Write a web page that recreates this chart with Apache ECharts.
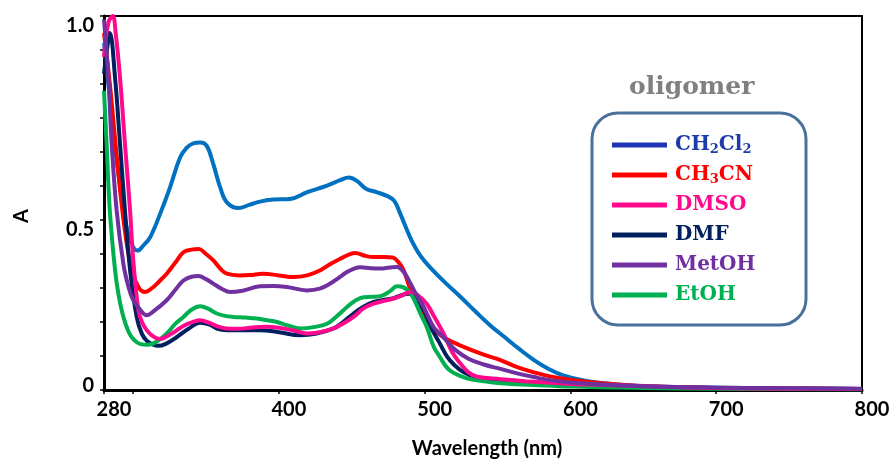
<!DOCTYPE html>
<html>
<head>
<meta charset="utf-8">
<script src="https://cdn.jsdelivr.net/npm/echarts@6/dist/echarts.min.js"></script>
<style>
html,body{margin:0;padding:0;background:#fff;}
#chart{width:892px;height:459px;}
</style>
</head>
<body>
<div id="chart"></div>
<script>
// ---- data (wavelength nm, absorbance) ----
const seriesNames = ['CH2Cl2', 'CH3CN', 'DMSO', 'DMF', 'MetOH', 'EtOH'];
const xTickLabels = [280, 400, 500, 600, 700, 800];
const xTicks = [280, 300, 400, 500, 600, 700, 800];
const yTicks = [0, 0.1, 0.2, 0.3, 0.4, 0.5, 0.6, 0.7, 0.8, 0.9, 1.0, 1.1];
const yTickLabels = [0, 0.5, 1.1];
const titleText = 'oligomer';

const ch2cl2 = [[280,1.02],[284,0.86],[288,0.7],[292,0.57],[296,0.47],[300,0.42],[303,0.41],[307,0.425],[311.6,0.449],[318.5,0.518],[325.3,0.596],[332.2,0.684],[336.8,0.713],[341,0.725],[346,0.728],[350.5,0.718],[355,0.664],[359.7,0.596],[364.3,0.552],[372.3,0.535],[380,0.545],[387,0.554],[396,0.56],[407.7,0.562],[419,0.581],[433,0.601],[442,0.617],[448,0.625],[453.5,0.615],[460,0.591],[467,0.582],[474,0.571],[479,0.557],[483.3,0.518],[490,0.449],[497,0.395],[505,0.355],[515,0.312],[525,0.272],[535,0.23],[545,0.19],[555,0.155],[565,0.12],[575,0.088],[585,0.062],[595,0.043],[610,0.027],[625,0.019],[640,0.014],[660,0.01],[690,0.008],[720,0.006],[760,0.005],[800,0.003]];

const ch3cn = [[280,1.05],[284,0.9],[288,0.72],[292,0.55],[296,0.42],[300,0.34],[304,0.3],[308,0.288],[313,0.3],[318,0.32],[323,0.342],[329,0.375],[334.5,0.405],[340,0.413],[345,0.415],[350,0.4],[355,0.381],[360,0.356],[364.3,0.342],[373,0.337],[380,0.338],[389,0.342],[400,0.337],[410,0.332],[420,0.338],[428.4,0.352],[435,0.37],[442,0.386],[448,0.398],[452.4,0.403],[459,0.395],[465,0.391],[472,0.391],[478,0.39],[482,0.376],[485.6,0.352],[489,0.31],[492.4,0.273],[497,0.238],[501.6,0.205],[508,0.172],[515,0.15],[525,0.13],[540,0.105],[552,0.088],[563,0.068],[575,0.052],[586,0.04],[600,0.03],[621,0.02],[655,0.01],[700,0.006],[750,0.004],[800,0.003]];

const dmso = [[280,0.98],[283,1.08],[286,1.1],[288,1.05],[291,0.918],[294.4,0.723],[297.9,0.527],[300.1,0.381],[303.6,0.234],[306,0.2],[309.3,0.176],[313,0.16],[318.5,0.15],[322,0.155],[328,0.17],[335,0.19],[341,0.2],[346,0.205],[352,0.198],[358,0.187],[364,0.181],[372,0.18],[382,0.184],[391.7,0.186],[400,0.183],[410,0.175],[419.2,0.166],[428,0.17],[437.5,0.181],[445,0.198],[451.2,0.215],[458,0.24],[465,0.254],[472,0.262],[478.7,0.269],[484,0.277],[490,0.288],[495,0.28],[501.6,0.252],[506,0.22],[513,0.166],[519,0.11],[524.5,0.078],[530,0.052],[536,0.039],[552,0.032],[575,0.024],[600,0.018],[621,0.015],[660,0.01],[700,0.006],[750,0.004],[800,0.003]];

const dmf = [[280,0.93],[282,1.0],[284,1.05],[287.6,0.918],[291,0.723],[294.4,0.527],[297.9,0.352],[302.4,0.215],[306,0.165],[309.3,0.145],[313,0.135],[317,0.13],[322,0.135],[330,0.156],[338,0.18],[346,0.198],[352,0.193],[358,0.18],[364,0.176],[375,0.176],[387,0.176],[400,0.17],[414.6,0.161],[425,0.165],[437.5,0.181],[444,0.2],[451.2,0.225],[458,0.245],[465,0.259],[472,0.265],[478.7,0.27],[484,0.279],[489,0.283],[494.7,0.265],[500,0.23],[504,0.186],[510,0.14],[515.4,0.098],[520,0.075],[526.8,0.052],[535,0.038],[552,0.029],[575,0.022],[600,0.016],[650,0.01],[700,0.006],[750,0.004],[800,0.003]];

const metoh = [[280,1.09],[283,0.918],[285.3,0.723],[288.7,0.527],[293.3,0.371],[297,0.3],[300.1,0.264],[305,0.235],[309.3,0.22],[315,0.235],[323,0.264],[329,0.295],[334.5,0.322],[340,0.333],[344.8,0.335],[350,0.326],[355,0.313],[361,0.297],[366.5,0.288],[375,0.292],[387,0.305],[396,0.306],[405.5,0.303],[419.2,0.293],[428,0.298],[435.2,0.313],[441,0.33],[446.7,0.347],[452,0.358],[455.8,0.361],[463,0.358],[469.6,0.357],[476,0.36],[481,0.362],[486,0.345],[490.2,0.313],[495,0.275],[499.3,0.244],[506,0.186],[511,0.163],[516,0.14],[521,0.118],[530,0.092],[540.5,0.075],[552,0.062],[563.4,0.049],[575,0.038],[586,0.029],[600,0.022],[621,0.016],[650,0.011],[690,0.007],[750,0.005],[800,0.004]];

const etoh = [[280,0.88],[281.8,0.723],[284,0.527],[287.6,0.352],[290,0.28],[293.3,0.215],[297,0.17],[300.1,0.15],[305,0.135],[310,0.133],[316,0.142],[323,0.166],[329,0.195],[334.5,0.215],[340,0.236],[346,0.246],[351,0.24],[357.4,0.225],[363,0.218],[368.8,0.215],[377,0.213],[384.9,0.21],[392,0.205],[398.6,0.2],[406,0.19],[414.6,0.181],[424,0.185],[433,0.195],[440,0.218],[446.7,0.244],[452,0.262],[458.1,0.273],[464,0.274],[469.6,0.276],[476,0.29],[481,0.305],[485,0.303],[490.2,0.285],[494,0.255],[497,0.225],[501.6,0.183],[506.2,0.127],[510,0.1],[515.4,0.065],[520,0.05],[529,0.034],[540,0.026],[552,0.02],[575,0.015],[600,0.01],[650,0.006],[700,0.004],[800,0.002]];

const seriesData = [ch2cl2, ch3cn, dmso, dmf, metoh, etoh];
const lineColors = ['#0070C0', '#FF0000', '#FF0A8C', '#002060', '#7030A0', '#00B050'];
const legendIconColors = ['#2035B5', '#FF0000', '#FF0A8C', '#002060', '#7030A0', '#00B050'];
const legendTextColors = ['#1F3BAA', '#FF0000', '#FF0A8C', '#002060', '#7030A0', '#00B050'];
const legendLabels = {
  'CH2Cl2': 'CH{s|2}Cl{s|2}',
  'CH3CN': 'CH{s|3}CN',
  'DMSO': 'DMSO', 'DMF': 'DMF', 'MetOH': 'MetOH', 'EtOH': 'EtOH'
};
const drawOrder = [0, 1, 3, 5, 2, 4];

const chart = echarts.init(document.getElementById('chart'), null, {renderer: 'canvas'});
const legendFont = 'DejaVu Serif';
const series = drawOrder.map(i => ({
  name: seriesNames[i],
  type: 'line',
  data: seriesData[i],
  showSymbol: false,
  smooth: 0.4,
  clip: true,
  lineStyle: {width: 4, color: lineColors[i]},
  itemStyle: {color: lineColors[i]},
  emphasis: {disabled: true},
  silent: true
}));

chart.setOption({
  animation: false,
  backgroundColor: '#ffffff',
  title: {
    text: titleText,
    left: 624, top: 70,
    textStyle: {color: '#808080', fontFamily: legendFont, fontWeight: 'bold', fontSize: 25}
  },
  grid: {
    left: 104, right: 30, top: 16, bottom: 69,
    containLabel: false, outerBoundsMode: 'none',
    show: true, borderColor: '#000', borderWidth: 2, backgroundColor: 'transparent'
  },
  xAxis: {
    type: 'value', min: 280, max: 800,
    name: 'Wavelength (nm)', nameLocation: 'middle', nameGap: 49,
    nameTextStyle: {fontFamily: 'Lato', fontWeight: 'bold', fontSize: 20, color: '#000', padding: [0, 0, 0, 8]},
    axisLine: {show: true, onZero: false, lineStyle: {color: '#000', width: 3}},
    axisTick: {show: true, length: 4, customValues: xTicks, lineStyle: {color: '#000', width: 1.5}},
    axisLabel: {customValues: xTickLabels, margin: 10, fontFamily: 'Lato', fontWeight: 'bold', fontSize: 20, color: '#000', padding: [0, 0, 0, 20]},
    splitLine: {show: false}
  },
  yAxis: {
    type: 'value', min: 0, max: 1.1,
    name: 'A', nameLocation: 'middle', nameGap: 72, nameRotate: 90,
    nameTextStyle: {fontFamily: 'Lato', fontWeight: 'bold', fontSize: 20, color: '#000', padding: [0, 26, 0, 0]},
    axisLine: {show: true, onZero: false, lineStyle: {color: '#000', width: 3}},
    axisTick: {show: true, length: 4, customValues: yTicks, lineStyle: {color: '#000', width: 1.5}},
    axisLabel: {
      customValues: yTickLabels, margin: 10, fontFamily: 'Lato', fontWeight: 'bold', fontSize: 20, color: '#000',
      formatter: function (v) {
        if (v === 0) return '{u|0}';
        if (v === 0.5) return '{d|0.5}';
        return '{d|1.0}';
      },
      rich: {
        u: {fontFamily: 'Lato', fontWeight: 'bold', fontSize: 20, color: '#000', padding: [0, 0, 8, 0]},
        d: {fontFamily: 'Lato', fontWeight: 'bold', fontSize: 20, color: '#000', padding: [20, 0, 0, 0]}
      }
    },
    splitLine: {show: false}
  },
  legend: {
    orient: 'vertical', left: 607, top: 129,
    selectedMode: false,
    icon: 'rect', itemWidth: 55, itemHeight: 5, itemGap: 8,
    formatter: function (name) { return legendLabels[name]; },
    data: seriesNames.map((n, i) => ({
      name: n,
      itemStyle: {color: legendIconColors[i]},
      textStyle: {
        color: legendTextColors[i], fontFamily: legendFont, fontWeight: 'bold', fontSize: 20, lineHeight: 22,
        padding: [0, 0, 0, 3],
        rich: {
          s: {color: legendTextColors[i], fontFamily: legendFont, fontWeight: 'bold', fontSize: 13, lineHeight: 12, verticalAlign: 'bottom'}
        }
      }
    }))
  },
  graphic: [{
    type: 'rect', z: 1, silent: true,
    shape: {x: 592, y: 113, width: 214, height: 212, r: 26},
    style: {fill: '#ffffff', stroke: '#4A709C', lineWidth: 3}
  }],
  series: series
});
</script>
</body>
</html>
